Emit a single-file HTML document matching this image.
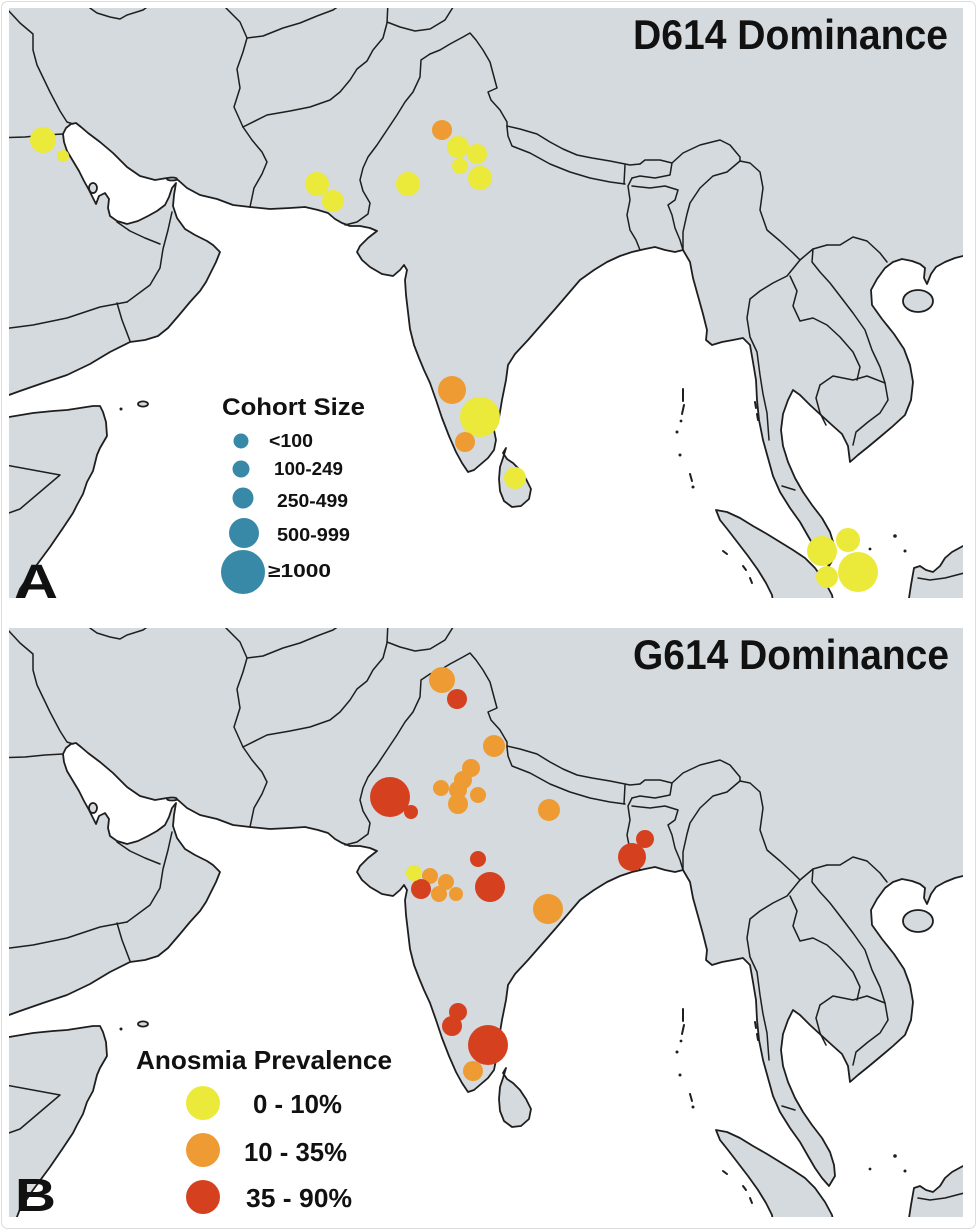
<!DOCTYPE html>
<html>
<head>
<meta charset="utf-8">
<style>
  html,body{margin:0;padding:0;background:#fff;}
  svg{display:block;}
  text{font-family:"Liberation Sans",Arial,sans-serif;font-weight:bold;fill:#111;}
</style>
</head>
<body>
<svg width="977" height="1230" viewBox="0 0 977 1230" xmlns="http://www.w3.org/2000/svg" xmlns:xlink="http://www.w3.org/1999/xlink">
  <defs>
    <clipPath id="ca"><rect x="9" y="8" width="954" height="590"/></clipPath>
    <clipPath id="cb"><rect x="9" y="628" width="954" height="589"/></clipPath>
    <g id="base">
      <rect x="0" y="0" width="977" height="610" fill="#ffffff"/>
      <g fill="#d4dadd" stroke="#1e1e1e" stroke-width="1.8" stroke-linejoin="round">
        <!-- mainland -->
        <path d="M-20,-20 L-20,398 L9,395 L20,391 L43,383 L67,375 L90,364 L110,352 L130,342 L145,340 L158,336 L168,328 L180,314 L190,302 L200,291 L206,282 L211,272 L216,262 L220,252 L213,245 L207,241 L195,235 L185,229 L177,218 L173,206 L174,195 L176,183 L172,188 L169,197 L165,205 L157,211 L148,216 L138,221 L127,224 L117,221 L110,216 L108,208 L109,199 L105,193 L99,196 L96,204 L93,198 L89,190 L84,181 L79,171 L73,161 L67,151 L64,142 L63,134 L66,128 L71,124 L76,123 L81,127 L88,133 L100,142 L113,153 L127,167 L140,176 L155,180 L167,178 L178,180 L187,188 L200,195 L217,199 L233,205 L250,207 L270,209 L290,208 L305,207 L318,210 L328,213 L335,219 L342,223 L350,226 L360,226 L370,228 L377,231 L368,238 L360,246 L357,252 L362,260 L370,267 L382,274 L393,276 L400,270 L404,265 L407,270 L405,280 L406,295 L408,312 L410,329 L414,345 L419,358 L424,370 L430,383 L436,400 L442,418 L449,436 L456,452 L462,463 L468,472 L474,470 L481,464 L488,458 L494,450 L496,440 L494,430 L499,418 L502,400 L506,380 L508,365 L515,354 L528,340 L542,324 L556,308 L568,294 L580,280 L594,270 L607,262 L620,256 L632,252 L645,249 L655,247 L665,250 L675,252 L683,250 L690,262 L693,278 L698,296 L703,314 L707,330 L706,340 L712,345 L722,342 L733,340 L743,338 L750,345 L753,362 L756,380 L757,400 L759,420 L763,440 L768,458 L773,476 L780,492 L790,508 L800,522 L808,536 L815,548 L822,558 L829,566 L835,556 L834,545 L830,532 L822,518 L812,505 L803,492 L795,478 L788,462 L783,446 L781,430 L783,414 L788,400 L793,390 L800,395 L810,405 L822,416 L833,426 L842,434 L848,446 L850,462 L858,455 L868,447 L880,437 L893,426 L905,415 L911,400 L913,382 L910,365 L904,349 L894,334 L882,319 L872,305 L871,290 L877,279 L885,268 L893,262 L902,259 L912,261 L920,264 L925,268 L924,278 L927,284 L931,274 L936,267 L945,262 L955,258 L963,256 L990,254 L990,-20 Z"/>
        <!-- Somalia -->
        <path d="M-20,417 L9,417 L33,413 L53,411 L67,410 L93,406 L100,406 L103,412 L106,422 L107,436 L100,448 L97,455 L93,471 L87,482 L83,494 L77,505 L73,513 L63,528 L50,547 L33,570 L20,589 L12,610 L-20,610 Z"/>
        <!-- Sumatra -->
        <path d="M716,510 L727,512 L740,518 L753,526 L767,534 L780,542 L793,550 L805,558 L815,568 L825,582 L832,595 L836,615 L775,615 L772,595 L766,583 L758,570 L748,556 L738,543 L728,530 L720,520 Z"/>
        <!-- Borneo -->
        <path d="M909,615 L909,598 L911,585 L914,568 L920,566 L926,570 L933,572 L940,566 L945,558 L952,552 L963,546 L990,544 L990,615 Z"/>
        <!-- Sri Lanka -->
        <path d="M506,448 L503,453 L507,459 L513,463 L520,470 L526,479 L531,489 L529,499 L521,506 L512,507 L504,501 L500,491 L499,479 L500,467 L503,458 Z"/>
        <!-- Hainan -->
        <ellipse cx="918" cy="301" rx="15" ry="11"/>
        <!-- small islands -->
        <ellipse cx="143" cy="404" rx="5" ry="2.6"/>
        <ellipse cx="93" cy="188" rx="4" ry="5"/>
        <ellipse cx="172" cy="179" rx="5" ry="1.5"/>
      </g>
      <!-- borders -->
      <g fill="none" stroke="#1e1e1e" stroke-width="1.5" stroke-linejoin="round" stroke-linecap="round">
        <polyline points="8,10 20,23 33,34 33,50 37,65 50,92 60,111 67,122 73,124"/>
        <polyline points="86,4 90,8 97,13 110,17 120,19 127,15 143,10 150,5"/>
        <polyline points="-5,138 25,137 45,135 63,134"/>
        <polyline points="117,222 130,231 145,238 160,244"/>
        <polyline points="172,212 168,230 163,249 160,268 150,285 127,302"/>
        <polyline points="127,302 100,307 67,318 33,325 -5,330"/>
        <polyline points="117,303 122,320 130,341"/>
        <polyline points="220,2 240,22 247,38 243,52 237,69 240,88 234,107 243,127"/>
        <polyline points="243,127 252,140 262,152 267,162 262,174 254,188 250,207"/>
        <polyline points="247,38 263,36 283,28 300,23 317,16 333,10 345,2"/>
        <polyline points="243,127 267,115 290,111 310,107 330,100 340,92 350,80 357,69 367,61 373,50 383,38 387,23 388,2"/>
        <polyline points="387,22 400,27 415,31 430,29 445,20 455,4"/>
        <polyline points="430,54 421,60 420,77 413,92 405,102 397,115 387,130 377,145 368,157 363,168 360,180 363,191 370,203 368,214 357,222 345,225"/>
        <polyline points="430,54 440,50 450,44 463,37 470,33 476,40 483,50 490,62 494,77 497,88 488,92 491,100 500,110 507,122 507,127"/>
        <polyline points="507,126 520,129 537,134 550,142 563,149 577,155 592,158 610,161 630,165 640,164"/>
        <polyline points="507,127 508,136 512,146 530,153 550,164 570,172 590,178 610,182 625,184"/>
        <polyline points="625,165 624,184"/>
        <polyline points="640,164 645,160 660,160 672,163 670,175 655,178 640,176 632,178"/>
        <polyline points="632,178 628,186 630,200 627,215 630,230 636,240 640,250"/>
        <polyline points="632,186 650,188 665,186 678,190 675,200 668,205 672,215 675,228 680,240 683,250"/>
        <polyline points="683,250 683,232 687,214 690,203 700,188 713,176 727,172 740,161"/>
        <polyline points="672,163 683,153 700,145 720,140 730,145 740,157 740,161"/>
        <polyline points="740,161 750,163 760,172 763,188 760,210 767,230 780,241 793,253 800,260"/>
        <polyline points="800,260 787,276 773,283 760,291 750,299 747,318 750,337 757,352 760,375 763,394 767,413 769,440"/>
        <polyline points="800,260 813,249 827,245"/>
        <polyline points="827,245 840,245 853,237 867,241 880,253 887,262"/>
        <polyline points="813,249 812,262 820,272 830,283 840,296 853,313 865,330 872,350 880,367 885,383"/>
        <polyline points="790,276 797,291 793,306 800,321 813,318 827,325 840,337 853,352 860,367 857,380"/>
        <polyline points="820,385 833,376 853,380 867,376 885,383 888,400 880,413 868,422 856,432 853,445"/>
        <polyline points="820,385 816,398 820,413 826,425"/>
        <polyline points="782,486 795,490"/>
        <polyline points="-5,463 60,475 20,509 -5,518"/>
        <polyline points="918,578 930,580 945,578 968,572"/>
        <!-- Andaman / Nicobar / small islands -->
        <polyline points="683,389 683,401" stroke-width="2"/>
        <polyline points="684,405 682,414" stroke-width="2"/>
        <polyline points="690,474 692,481" stroke-width="2"/>
        <polyline points="723,551 727,554" stroke-width="2"/>
        <polyline points="743,566 746,570" stroke-width="2"/>
        <polyline points="750,578 752,583" stroke-width="2"/>
        <polyline points="755,402 756,408" stroke-width="2"/>
        <polyline points="757,414 758,420" stroke-width="2"/>
      </g>
      <g fill="#1e1e1e">
        <circle cx="121" cy="409" r="1.5"/>
        <circle cx="681" cy="421" r="1.4"/>
        <circle cx="677" cy="432" r="1.5"/>
        <circle cx="680" cy="455" r="1.5"/>
        <circle cx="693" cy="487" r="1.5"/>
        <circle cx="895" cy="536" r="1.8"/>
        <circle cx="905" cy="551" r="1.5"/>
        <circle cx="870" cy="549" r="1.4"/>
      </g>
    </g>
  </defs>

  <!-- outer frame -->
  <rect x="1.5" y="1.5" width="974" height="1227" rx="6" ry="6" fill="#fff" stroke="#dcdcdc" stroke-width="1"/>

  <!-- Panel A -->
  <g clip-path="url(#ca)">
    <use href="#base" xlink:href="#base"/>
    <g>
      <circle cx="442" cy="130" r="10" fill="#ee9b33"/>
      <circle cx="43" cy="140" r="13" fill="#ebe93a"/>
      <circle cx="63" cy="156" r="6" fill="#ebe93a"/>
      <circle cx="317" cy="184" r="12" fill="#ebe93a"/>
      <circle cx="333" cy="201" r="11" fill="#ebe93a"/>
      <circle cx="458" cy="147" r="11" fill="#ebe93a"/>
      <circle cx="477" cy="154" r="10" fill="#ebe93a"/>
      <circle cx="460" cy="166" r="8" fill="#ebe93a"/>
      <circle cx="480" cy="178" r="12" fill="#ebe93a"/>
      <circle cx="408" cy="184" r="12" fill="#ebe93a"/>
      <circle cx="452" cy="390" r="14" fill="#ee9b33"/>
      <circle cx="480" cy="417" r="20" fill="#ebe93a"/>
      <circle cx="465" cy="442" r="10" fill="#ee9b33"/>
      <circle cx="515" cy="478" r="11" fill="#ebe93a"/>
      <circle cx="822" cy="551" r="15" fill="#ebe93a"/>
      <circle cx="848" cy="540" r="12" fill="#ebe93a"/>
      <circle cx="827" cy="577" r="11" fill="#ebe93a"/>
      <circle cx="858" cy="572" r="20" fill="#ebe93a"/>
    </g>
  </g>
  <text x="633" y="49" font-size="42" textLength="315" lengthAdjust="spacingAndGlyphs">D614 Dominance</text>
  <text x="15" y="598" font-size="48" textLength="43" lengthAdjust="spacingAndGlyphs">A</text>

  <!-- Cohort legend -->
  <text x="222" y="415" font-size="24" textLength="143" lengthAdjust="spacingAndGlyphs">Cohort Size</text>
  <g fill="#3889a7">
    <circle cx="241" cy="441" r="7.5"/>
    <circle cx="241" cy="469" r="8.5"/>
    <circle cx="243" cy="498" r="10.5"/>
    <circle cx="244" cy="533" r="15"/>
    <circle cx="243" cy="572" r="22"/>
  </g>
  <text x="269" y="447" font-size="18" textLength="44" lengthAdjust="spacingAndGlyphs">&lt;100</text>
  <text x="274" y="475" font-size="18" textLength="69" lengthAdjust="spacingAndGlyphs">100-249</text>
  <text x="277" y="507" font-size="18" textLength="71" lengthAdjust="spacingAndGlyphs">250-499</text>
  <text x="277" y="541" font-size="18" textLength="73" lengthAdjust="spacingAndGlyphs">500-999</text>
  <text x="268" y="577" font-size="18" textLength="63" lengthAdjust="spacingAndGlyphs">≥1000</text>

  <!-- Panel B -->
  <g clip-path="url(#cb)">
    <use href="#base" xlink:href="#base" transform="translate(0,620)"/>
    <g>
      <circle cx="442" cy="680" r="13" fill="#ee9b33"/>
      <circle cx="457" cy="699" r="10" fill="#d5401f"/>
      <circle cx="494" cy="746" r="11" fill="#ee9b33"/>
      <circle cx="471" cy="768" r="9" fill="#ee9b33"/>
      <circle cx="463" cy="780" r="9" fill="#ee9b33"/>
      <circle cx="441" cy="788" r="8" fill="#ee9b33"/>
      <circle cx="458" cy="790" r="9" fill="#ee9b33"/>
      <circle cx="478" cy="795" r="8" fill="#ee9b33"/>
      <circle cx="458" cy="804" r="10" fill="#ee9b33"/>
      <circle cx="390" cy="797" r="20" fill="#d5401f"/>
      <circle cx="411" cy="812" r="7" fill="#d5401f"/>
      <circle cx="549" cy="810" r="11" fill="#ee9b33"/>
      <circle cx="645" cy="839" r="9" fill="#d5401f"/>
      <circle cx="632" cy="857" r="14" fill="#d5401f"/>
      <circle cx="478" cy="859" r="8" fill="#d5401f"/>
      <circle cx="430" cy="876" r="8" fill="#ee9b33"/>
      <circle cx="446" cy="882" r="8" fill="#ee9b33"/>
      <circle cx="439" cy="894" r="8" fill="#ee9b33"/>
      <circle cx="456" cy="894" r="7" fill="#ee9b33"/>
      <circle cx="421" cy="889" r="10" fill="#d5401f"/>
      <circle cx="414" cy="873" r="8" fill="#ebe93a"/>
      <circle cx="490" cy="887" r="15" fill="#d5401f"/>
      <circle cx="548" cy="909" r="15" fill="#ee9b33"/>
      <circle cx="458" cy="1012" r="9" fill="#d5401f"/>
      <circle cx="452" cy="1026" r="10" fill="#d5401f"/>
      <circle cx="488" cy="1045" r="20" fill="#d5401f"/>
      <circle cx="473" cy="1071" r="10" fill="#ee9b33"/>
    </g>
  </g>
  <text x="633" y="669" font-size="42" textLength="316" lengthAdjust="spacingAndGlyphs">G614 Dominance</text>
  <text x="15" y="1211" font-size="46" textLength="41" lengthAdjust="spacingAndGlyphs">B</text>

  <!-- Anosmia legend -->
  <text x="136" y="1069" font-size="26" textLength="256" lengthAdjust="spacingAndGlyphs">Anosmia Prevalence</text>
  <circle cx="203" cy="1103" r="17" fill="#ebe93a"/>
  <circle cx="203" cy="1150" r="17" fill="#ee9b33"/>
  <circle cx="203" cy="1197" r="17" fill="#d5401f"/>
  <text x="253" y="1113" font-size="26" textLength="89" lengthAdjust="spacingAndGlyphs">0 - 10%</text>
  <text x="244" y="1161" font-size="26" textLength="103" lengthAdjust="spacingAndGlyphs">10 - 35%</text>
  <text x="246" y="1207" font-size="26" textLength="106" lengthAdjust="spacingAndGlyphs">35 - 90%</text>
</svg>
</body>
</html>
